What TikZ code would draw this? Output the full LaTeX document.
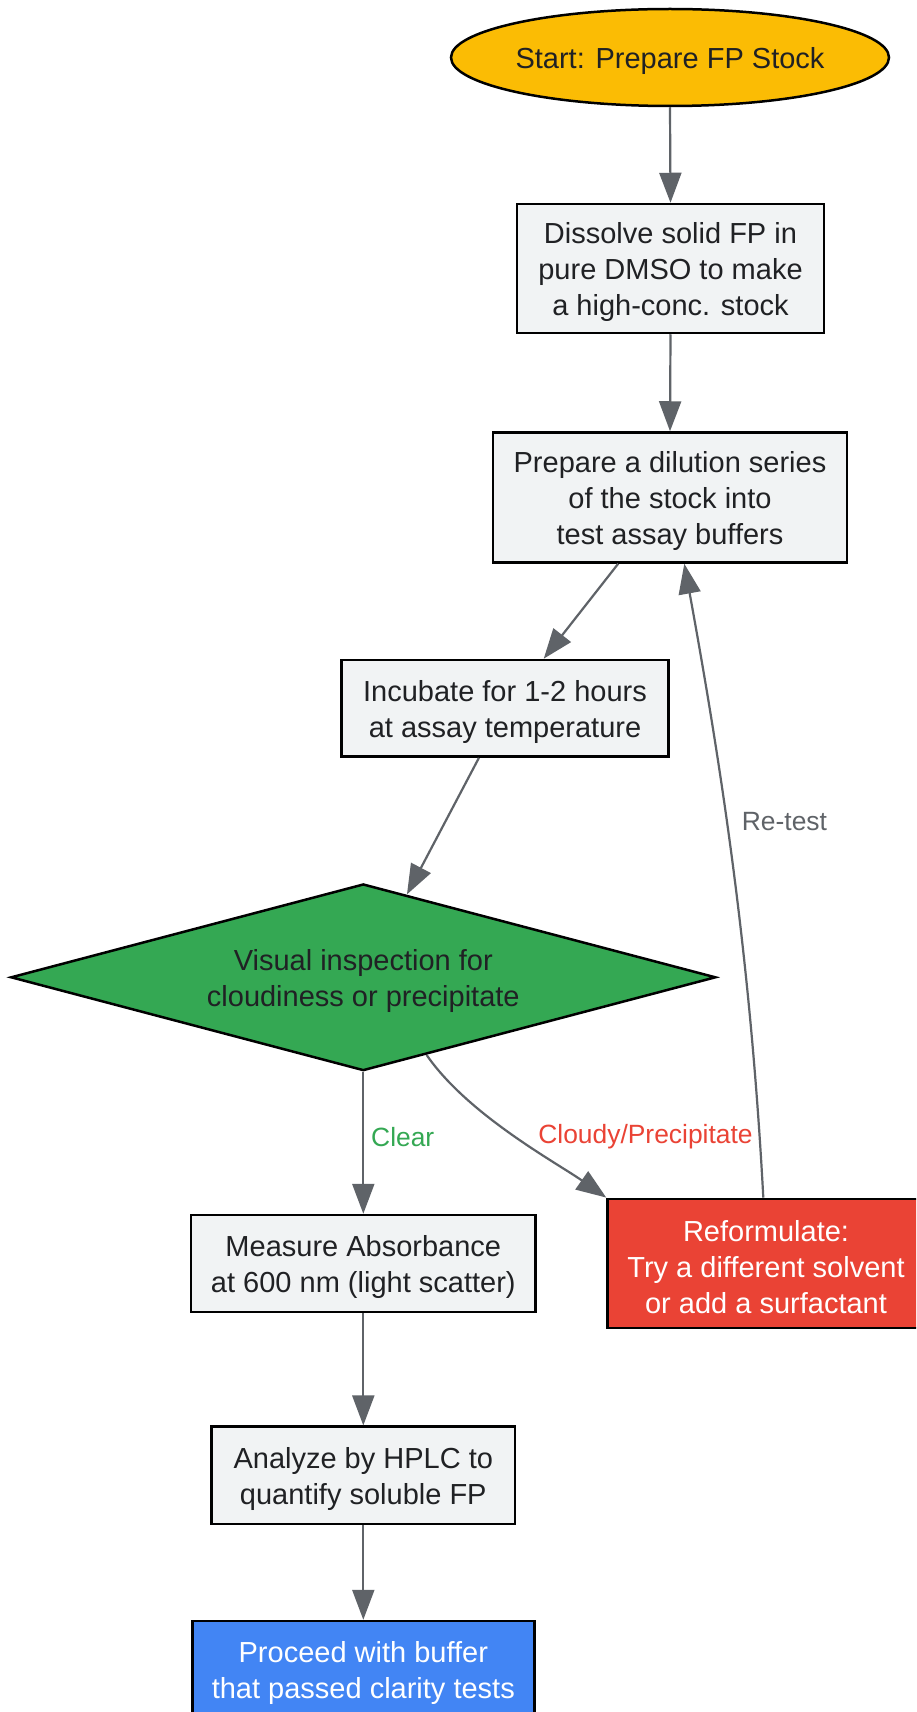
\documentclass[tikz,border=0pt]{standalone}
\usepackage{fontspec}
\setmainfont{Liberation Sans}
\usetikzlibrary{shapes.geometric,arrows.meta,calc}
\definecolor{edgegray}{HTML}{5F6368}
\definecolor{boxfill}{HTML}{F1F3F4}
\definecolor{txtdark}{HTML}{202124}
\definecolor{gyellow}{HTML}{FBBC04}
\definecolor{ggreen}{HTML}{34A853}
\definecolor{gred}{HTML}{EA4335}
\definecolor{gblue}{HTML}{4285F4}
\tikzset{
  base/.style={draw=black, line width=2.5pt, inner sep=0pt},
  tx/.style={inner sep=0pt, align=center, text=txtdark, yshift=-3.8pt,
    font=\fontsize{29}{36}\selectfont},
  txw/.style={tx, text=white},
  procbox/.style={base, rectangle, fill=boxfill},
  startnode/.style={base, ellipse, fill=gyellow},
  decnode/.style={base, diamond, fill=ggreen, aspect=3.776},
  badbox/.style={base, rectangle, fill=gred},
  endbox/.style={base, rectangle, fill=gblue},
  conn/.style={draw=edgegray, line width=2.2pt, -{Triangle[length=30pt,width=22pt]}},
  lbl/.style={inner sep=0pt, font=\fontsize{26.4}{32}\selectfont}
}
\begin{document}
\begin{tikzpicture}[x=1pt,y=-1pt]
\useasboundingbox (0,0) rectangle (916,1712);
\clip (0,0) rectangle (916,1712);
\fill[white] (0,0) rectangle (916,1712);

\node[startnode, minimum width=438pt, minimum height=97pt,
  label={[tx]center:Start: Prepare FP Stock}] (start) at (670,57.5) {};
\node[procbox, minimum width=307pt, minimum height=129pt,
  label={[tx]center:{Dissolve solid FP in\\pure DMSO to make\\a high-conc. stock}}] (diss) at (670.5,268.5) {};
\node[procbox, minimum width=354pt, minimum height=130pt,
  label={[tx]center:{Prepare a dilution series\\of the stock into\\test assay buffers}}] (prep) at (670,497.5) {};
\node[procbox, minimum width=326.6pt, minimum height=96.7pt,
  label={[tx]center:{Incubate for 1-2 hours\\at assay temperature}}] (incub) at (505,708.3) {};
\node[decnode, minimum width=705pt, minimum height=186.7pt,
  label={[tx]center:{Visual inspection for\\cloudiness or precipitate}}] (diam) at (363.3,977.3) {};
\node[procbox, minimum width=344.6pt, minimum height=97pt,
  label={[tx]center:{Measure Absorbance\\at 600 nm (light scatter)}}] (meas) at (363.3,1263.5) {};
\node[badbox, minimum width=317pt, minimum height=129pt,
  label={[txw]center:{Reformulate:\\Try a different solvent\\or add a surfactant}}] (ref) at (766,1263.3) {};
\node[procbox, minimum width=303.3pt, minimum height=97.3pt,
  label={[tx]center:{Analyze by HPLC to\\quantify soluble FP}}] (anal) at (363.3,1475.3) {};
\node[endbox, minimum width=342pt, minimum height=97pt,
  label={[txw]center:{Proceed with buffer\\that passed clarity tests}}] (proc) at (363.3,1669.5) {};

\draw[conn] (start.south) -- (diss.north);
\draw[conn] (diss.south) -- (prep.north);
\draw[conn] (prep) -- (incub);
\draw[conn] (incub) -- (diam);
\draw[conn] (diam.south) -- (meas.north);
\draw[conn] ($(diam.south)!0.179!(diam.east)$) .. controls (468,1115) and (557,1163) .. (ref.north west);
\draw[conn] ($(ref.north)+(-2.7,0)$) .. controls (750,950) and (720,760) .. ($(prep.south)+(14.3,0)$);
\draw[conn] (meas.south) -- (anal.north);
\draw[conn] (anal.south) -- (proc.north);

\node[lbl, text=ggreen, anchor=west] (lclear) at (371,1136.7) {Clear};
\node[lbl, text=gred] (lcloudy) at (645.5,1136.7) {Cloudy/Precipitate};
\node[lbl, text=edgegray, anchor=west] (lretest) at (741.7,821.7) {Re-test};
\end{tikzpicture}
\end{document}
